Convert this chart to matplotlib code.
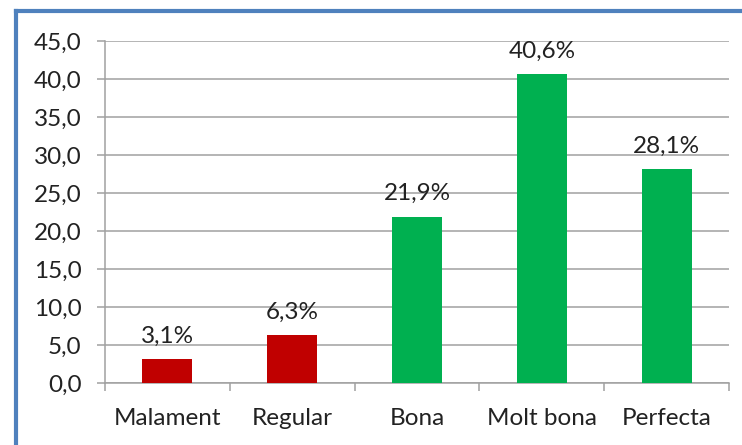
import matplotlib
matplotlib.use("Agg")
import matplotlib.pyplot as plt
from matplotlib.lines import Line2D
import numpy as np

categories = ["Malament", "Regular", "Bona", "Molt bona", "Perfecta"]
values = [3.1, 6.3, 21.9, 40.6, 28.1]
bar_colors = ["#C00000", "#C00000", "#00B050", "#00B050", "#00B050"]
y_ticks = [0, 5, 10, 15, 20, 25, 30, 35, 40, 45]

plt.rcParams["font.family"] = ["Lato", "DejaVu Sans"]
FS = 17.5

fig = plt.figure(figsize=(7.42, 4.45), dpi=100)
ax = fig.add_axes([105 / 742, 1 - 383 / 445, 624 / 742, 342 / 445])

x = np.arange(len(categories))
ax.bar(x, values, width=0.4, color=bar_colors, zorder=3)

for xi, v in zip(x, values):
    ax.annotate(f"{v:.1f}%".replace(".", ","), (xi, v), xytext=(0, 9),
                textcoords="offset points", ha="center", va="bottom",
                fontsize=FS, color="#222222")

ax.set_xlim(-0.5, len(categories) - 0.5)
ax.set_ylim(0, 45)
ax.set_yticks(y_ticks)
ax.set_yticklabels([f"{t:.1f}".replace(".", ",") for t in y_ticks])
ax.yaxis.grid(True, color="#A0A0A0", linewidth=1.1, zorder=0)
ax.set_axisbelow(True)

ax.set_xticks(x)
ax.set_xticklabels(categories)
ax.set_xticks(np.arange(len(categories) + 1) - 0.5, minor=True)
ax.tick_params(axis="x", which="major", length=0, pad=18, labelsize=FS,
               colors="#222222")
ax.tick_params(axis="x", which="minor", length=6, width=1.1, color="#A0A0A0")
ax.tick_params(axis="y", length=6, width=1.1, color="#A0A0A0", pad=11,
               labelsize=FS, labelcolor="#222222")

for side in ("top", "right"):
    ax.spines[side].set_visible(False)
for side in ("left", "bottom"):
    ax.spines[side].set_color("#A0A0A0")
    ax.spines[side].set_linewidth(1.1)

# blue frame along the left and top edges
fig.add_artist(Line2D([16 / 742, 16 / 742], [0, 1 - 11 / 445],
                      transform=fig.transFigure, color="#4F81BD", linewidth=3))
fig.add_artist(Line2D([16 / 742, 1], [1 - 11 / 445, 1 - 11 / 445],
                      transform=fig.transFigure, color="#4F81BD", linewidth=3))

fig.savefig("out.png", dpi=100)
